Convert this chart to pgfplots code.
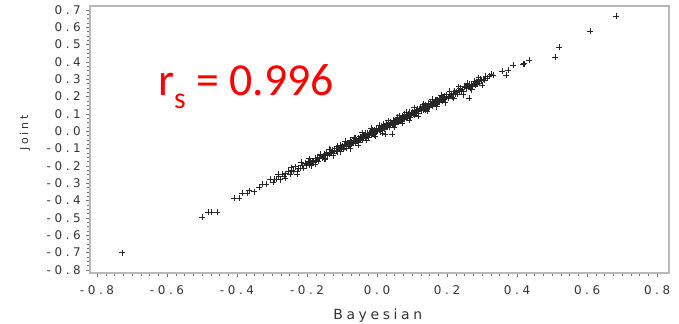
\documentclass[border=0pt]{standalone}
\usepackage{fontspec}
\setmainfont{DejaVu Sans}
\newfontfamily\tickfont[LetterSpace=30]{DejaVu Sans}
\newfontfamily\labfont[LetterSpace=26]{DejaVu Sans}
\newfontfamily\calib{Carlito}
\usepackage{pgfplots}
\pgfplotsset{compat=1.18}
\definecolor{framegray}{gray}{0.72}
\definecolor{tickgray}{gray}{0.45}
\definecolor{rsred}{RGB}{255,0,0}

\begin{document}
\begin{tikzpicture}
\useasboundingbox (-90bp,-51bp) rectangle (589bp,273bp);
\begin{axis}[
  scale only axis, width=579bp, height=267bp,
  xmin=-0.82, xmax=0.834, ymin=-0.818, ymax=0.723,
  axis line style={draw=framegray, line width=1.1bp},
  xtick={-0.8,-0.6,-0.4,-0.2,0,0.2,0.4,0.6,0.8},
  ytick={-0.8,-0.7,-0.6,-0.5,-0.4,-0.3,-0.2,-0.1,0,0.1,0.2,0.3,0.4,0.5,0.6,0.7},
  minor x tick num=7, minor y tick num=3,
  xtick pos=bottom, ytick pos=left, tick align=outside,
  major tick length=4bp, minor tick length=2.5bp,
  every tick/.append style={draw=tickgray, line width=0.5bp},
  /pgf/number format/.cd, fixed, fixed zerofill, precision=1, assume math mode=true,
  /pgfplots/.cd,
  tick label style={font=\tickfont\fontsize{12}{12}\selectfont, text=black!80, inner sep=0pt},
  yticklabel style={anchor=east, xshift=-5bp},
  xticklabel style={anchor=north, yshift=-8bp},
  clip=false,
]
\addplot[only marks, mark=+, mark size=3bp, mark options={line width=0.45pt, black!85}] coordinates {
% lower tail
(-0.729,-0.700) (-0.500,-0.494) (-0.483,-0.466) (-0.474,-0.466) (-0.457,-0.466)
(-0.408,-0.387) (-0.395,-0.385) (-0.386,-0.356) (-0.372,-0.357) (-0.365,-0.342)
(-0.351,-0.348) (-0.338,-0.322) (-0.329,-0.304) (-0.317,-0.307) (-0.306,-0.276)
(-0.298,-0.295) (-0.293,-0.275) (-0.287,-0.274) (-0.281,-0.260) (-0.276,-0.279)
(-0.270,-0.246) (-0.266,-0.258) (-0.261,-0.245) (-0.255,-0.228) (-0.249,-0.246)
(-0.244,-0.227) (-0.240,-0.231) (-0.234,-0.204) (-0.229,-0.229) (-0.224,-0.211)
(-0.219,-0.214) (-0.214,-0.194) (-0.210,-0.213) (-0.205,-0.182) (-0.201,-0.193)
(-0.283,-0.248) (-0.262,-0.270) (-0.246,-0.210) (-0.228,-0.247) (-0.216,-0.178)
% -0.2 to -0.1
(-0.198,-0.172) (-0.195,-0.195) (-0.192,-0.179) (-0.189,-0.198) (-0.186,-0.170)
(-0.183,-0.173) (-0.181,-0.177) (-0.178,-0.154) (-0.175,-0.167) (-0.172,-0.153)
(-0.169,-0.172) (-0.166,-0.151) (-0.164,-0.158) (-0.161,-0.140) (-0.158,-0.156)
(-0.155,-0.143) (-0.152,-0.158) (-0.150,-0.133) (-0.147,-0.138) (-0.144,-0.121)
(-0.141,-0.141) (-0.138,-0.124) (-0.136,-0.132) (-0.133,-0.106) (-0.130,-0.123)
(-0.127,-0.109) (-0.124,-0.126) (-0.121,-0.110) (-0.118,-0.115) (-0.116,-0.096)
(-0.113,-0.118) (-0.110,-0.094) (-0.107,-0.099) (-0.104,-0.082) (-0.101,-0.100)
(-0.193,-0.158) (-0.176,-0.190) (-0.163,-0.130) (-0.149,-0.162) (-0.137,-0.105)
(-0.126,-0.140) (-0.114,-0.085) (-0.106,-0.118)
% -0.1 to 0
(-0.099,-0.087) (-0.097,-0.101) (-0.095,-0.074) (-0.093,-0.089) (-0.091,-0.076)
(-0.089,-0.098) (-0.087,-0.079) (-0.085,-0.068) (-0.083,-0.083) (-0.081,-0.071)
(-0.079,-0.085) (-0.077,-0.053) (-0.075,-0.073) (-0.073,-0.060) (-0.071,-0.065)
(-0.069,-0.050) (-0.067,-0.069) (-0.065,-0.058) (-0.063,-0.041) (-0.061,-0.066)
(-0.059,-0.048) (-0.057,-0.056) (-0.055,-0.039) (-0.053,-0.064) (-0.051,-0.042)
(-0.049,-0.031) (-0.047,-0.044) (-0.045,-0.031) (-0.043,-0.050) (-0.041,-0.021)
(-0.039,-0.034) (-0.037,-0.025) (-0.035,-0.038) (-0.033,-0.010) (-0.031,-0.032)
(-0.029,-0.021) (-0.027,-0.010) (-0.025,-0.033) (-0.023,-0.013) (-0.021,-0.019)
(-0.019,-0.004) (-0.017,-0.021) (-0.015,0.006) (-0.013,-0.007) (-0.011,0.002)
(-0.009,-0.019) (-0.007,0.009) (-0.005,-0.001) (-0.003,0.016) (-0.001,-0.001)
(-0.092,-0.058) (-0.078,-0.100) (-0.066,-0.036) (-0.054,-0.079) (-0.042,-0.008)
(-0.030,-0.050) (-0.018,0.020) (-0.006,-0.030)
% 0 to 0.1
(0.001,-0.001) (0.003,0.020) (0.005,0.008) (0.007,0.020) (0.009,-0.002)
(0.011,0.019) (0.013,0.028) (0.015,0.011) (0.017,0.023) (0.019,0.040)
(0.021,0.013) (0.023,0.033) (0.025,0.026) (0.027,0.045) (0.029,0.024)
(0.031,0.035) (0.033,0.045) (0.035,0.022) (0.037,0.053) (0.039,0.039)
(0.041,0.050) (0.043,0.037) (0.045,0.064) (0.047,0.049) (0.049,0.060)
(0.051,0.041) (0.053,0.066) (0.055,0.059) (0.057,0.053) (0.059,0.080)
(0.061,0.053) (0.063,0.069) (0.065,0.063) (0.067,0.079) (0.069,0.058)
(0.071,0.087) (0.073,0.075) (0.075,0.084) (0.077,0.071) (0.079,0.098)
(0.081,0.081) (0.083,0.097) (0.085,0.076) (0.087,0.092) (0.089,0.100)
(0.091,0.088) (0.093,0.110) (0.095,0.082) (0.097,0.104) (0.099,0.100)
(0.008,0.016) (0.018,0.017) (0.026,0.036) (0.038,0.046) (0.046,0.044)
(0.058,0.068) (0.066,0.074) (0.074,0.072) (0.084,0.093) (0.094,0.096)
(0.023,-0.018) (0.043,-0.016)
(0.006,0.034) (0.016,-0.012) (0.032,0.062) (0.048,0.024) (0.062,0.090)
(0.072,0.048) (0.082,0.112) (0.092,0.064)
% 0.1 to 0.2
(0.101,0.110) (0.103,0.099) (0.105,0.120) (0.107,0.095) (0.109,0.111)
(0.111,0.118) (0.113,0.104) (0.115,0.128) (0.117,0.116) (0.119,0.103)
(0.121,0.127) (0.123,0.134) (0.125,0.119) (0.127,0.130) (0.129,0.147)
(0.131,0.121) (0.133,0.133) (0.135,0.143) (0.137,0.123) (0.139,0.151)
(0.141,0.138) (0.143,0.148) (0.145,0.137) (0.147,0.163) (0.149,0.138)
(0.151,0.152) (0.153,0.163) (0.155,0.150) (0.157,0.171) (0.159,0.146)
(0.161,0.165) (0.163,0.161) (0.165,0.182) (0.167,0.160) (0.169,0.178)
(0.171,0.156) (0.173,0.179) (0.175,0.175) (0.177,0.189) (0.179,0.170)
(0.181,0.184) (0.183,0.179) (0.185,0.200) (0.187,0.175) (0.189,0.196)
(0.191,0.190) (0.193,0.204) (0.195,0.189) (0.197,0.199) (0.199,0.212)
(0.112,0.113) (0.134,0.128) (0.146,0.150) (0.164,0.166) (0.186,0.185)
(0.106,0.136) (0.118,0.086) (0.132,0.158) (0.144,0.118) (0.158,0.185)
(0.170,0.142) (0.182,0.210) (0.194,0.166)
% 0.2 to 0.33
(0.202,0.192) (0.205,0.214) (0.208,0.203) (0.211,0.216) (0.214,0.198)
(0.217,0.218) (0.220,0.232) (0.223,0.215) (0.226,0.224) (0.229,0.216)
(0.232,0.238) (0.235,0.231) (0.238,0.249) (0.241,0.230) (0.244,0.244)
(0.247,0.229) (0.250,0.253) (0.253,0.261) (0.256,0.249) (0.259,0.256)
(0.262,0.272) (0.265,0.251) (0.268,0.272) (0.271,0.262) (0.274,0.273)
(0.277,0.290) (0.280,0.268) (0.283,0.285) (0.286,0.281) (0.289,0.296)
(0.292,0.277) (0.295,0.300) (0.298,0.292) (0.302,0.303) (0.306,0.296)
(0.310,0.318) (0.315,0.307) (0.320,0.319) (0.326,0.329) (0.331,0.325)
(0.284,0.272) (0.287,0.275) (0.281,0.276) (0.263,0.192)
(0.207,0.230) (0.219,0.190) (0.233,0.258) (0.245,0.212) (0.258,0.280)
(0.270,0.240) (0.290,0.310) (0.300,0.268)
% upper tail
(0.357,0.348) (0.369,0.325) (0.374,0.354) (0.389,0.383) (0.417,0.388)
(0.419,0.390) (0.434,0.411) (0.509,0.429) (0.520,0.486) (0.609,0.579)
(0.683,0.665)
};
\node[rotate=90, anchor=center, inner sep=0pt, text=black!80, font=\labfont\fontsize{11}{11}\selectfont]
  at ([xshift=-65bp]axis description cs:0,0.524) {Joint};
\node[anchor=center, inner sep=0pt, text=black!80, font=\labfont\fontsize{14}{14}\selectfont]
  at ([yshift=-43bp]axis description cs:0.497,0) {Bayesian};
\node[anchor=base west, inner sep=0pt, text=rsred, font=\calib\fontsize{46}{46}\selectfont]
  at (axis cs:-0.626,0.209) {r\raisebox{-0.3em}{\fontsize{30}{30}\selectfont s} = 0.996};
\end{axis}
\end{tikzpicture}
\end{document}
